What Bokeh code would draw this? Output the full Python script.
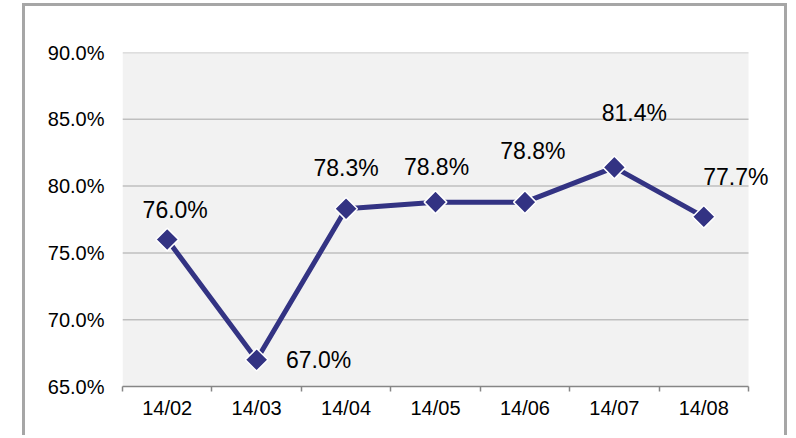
from bokeh.plotting import figure
from bokeh.models import ColumnDataSource, FixedTicker, PrintfTickFormatter, Label, BoxAnnotation
from bokeh.embed import file_html
from bokeh.resources import INLINE
import math

categories = ["14/02", "14/03", "14/04", "14/05", "14/06", "14/07", "14/08"]
rates = [76.0, 67.0, 78.3, 78.8, 78.8, 81.4, 77.7]
y_ticks = [65, 70, 75, 80, 85, 90]

# label placement (screen px offsets, style only)
label_dx = [8, 62, 0, 1, 8, 20, 32]
label_dy = [30, 0, 41, 35, 51, 54, 40]

NAVY = "#333383"
FONT = "Liberation Sans"
GRID = "#BFBFBF"

n = len(categories)
xs = [i + 0.5 for i in range(n)]
bounds = list(range(n + 1))
src = ColumnDataSource(dict(x=xs, y=rates))

# layout: category area 626px wide, frame extended 30px to the right so that
# data labels beyond the last category are not clipped
AREA_W, EXTRA_W = 626, 30
x_end = n * (AREA_W + EXTRA_W) / AREA_W

p = figure(width=765, height=432, x_range=(0, x_end), y_range=(65, 90),
           output_backend="svg", toolbar_location=None,
           min_border_left=97, min_border_right=42 - EXTRA_W, min_border_top=46,
           min_border_bottom=52)
p.styles = {"margin-left": "22px", "margin-top": "3px",
            "border-left": "3px solid #A6A6A6", "border-right": "3px solid #A6A6A6",
            "border-top": "3px solid #A6A6A6"}
p.background_fill_color = "white"
p.border_fill_color = "white"
p.outline_line_color = None

# plot-area background only over the category area
p.add_layout(BoxAnnotation(left=0, right=n, fill_color="#F2F2F2", fill_alpha=1,
                           line_color=None, level="underlay"))

# y axis
ya = p.yaxis[0]
ya.ticker = FixedTicker(ticks=y_ticks)
ya.formatter = PrintfTickFormatter(format="%.1f%%")
ya.axis_line_color = None
ya.major_tick_line_color = None
ya.minor_tick_line_color = None
ya.major_label_standoff = 12
ya.major_label_text_font = FONT
ya.major_label_text_font_size = "20px"
ya.major_label_text_color = "black"

p.xgrid.visible = False
p.ygrid.visible = False
# horizontal gridlines limited to the category area
p.segment(x0=[0] * (len(y_ticks) - 1), x1=[n] * (len(y_ticks) - 1),
          y0=y_ticks[1:], y1=y_ticks[1:], line_color=GRID, line_width=1.5)

# x axis: labels at category centers, tick marks at category boundaries
xa = p.xaxis[0]
xa.bounds = (0, n)
xa.ticker = FixedTicker(ticks=xs, minor_ticks=bounds)
xa.major_label_overrides = {x: c for x, c in zip(xs, categories)}
xa.axis_line_color = "#868686"
xa.axis_line_width = 1.5
xa.major_tick_line_color = None
xa.major_tick_in = 0
xa.major_tick_out = 0
xa.minor_tick_line_color = "#868686"
xa.minor_tick_line_width = 1.5
xa.minor_tick_in = 0
xa.minor_tick_out = 5
xa.major_label_standoff = 5
xa.major_label_text_font = FONT
xa.major_label_text_font_size = "20px"
xa.major_label_text_color = "black"

p.line("x", "y", source=src, line_color=NAVY, line_width=5)
p.scatter("x", "y", source=src, marker="square", size=16, angle=math.pi / 4,
          fill_color=NAVY, line_color="white", line_width=1.5)

for x, v, dx, dy in zip(xs, rates, label_dx, label_dy):
    p.add_layout(Label(x=x, y=v, text=f"{v:.1f}%", x_offset=dx, y_offset=dy,
                       text_align="center", text_baseline="middle",
                       text_font=FONT, text_font_size="23px", text_color="black"))

open("out.html", "w").write(file_html(p, INLINE))
